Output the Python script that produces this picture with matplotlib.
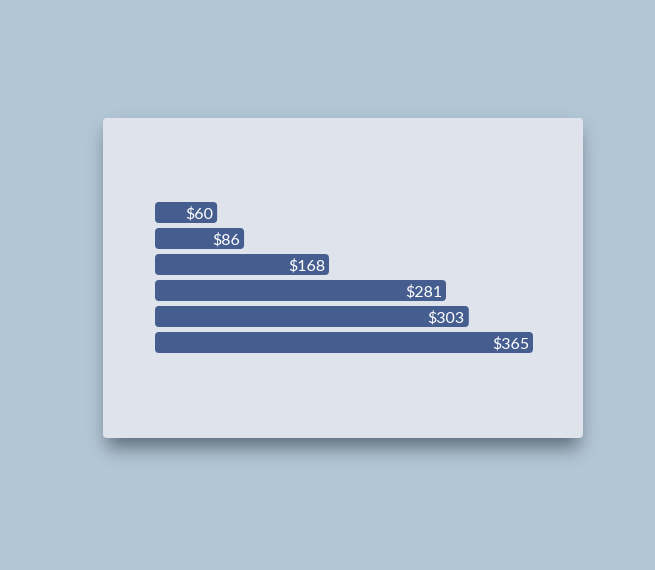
import numpy as np
import matplotlib.pyplot as plt
from matplotlib.patches import FancyBboxPatch

# data
values = [60, 86, 168, 281, 303, 365]
labels = ['$' + str(v) for v in values]

W, H = 655, 570
BG = '#b3c6d5'
CARD = '#dfe3eb'
BAR = '#465e8f'

fig = plt.figure(figsize=(W / 100, H / 100), dpi=100)
fig.patch.set_facecolor(BG)

cx0, cy0, cx1, cy1 = 103, 118, 583, 438

# soft drop shadow: blurred rectangle mask drawn as an image under the card
mask = np.zeros((H, W))
mask[cy0 + 12:cy1 + 10, cx0 + 4:cx1 - 4] = 1.0
sigma = 9
k = np.arange(-3 * sigma, 3 * sigma + 1)
kern = np.exp(-k ** 2 / (2 * sigma ** 2))
kern /= kern.sum()
mask = np.apply_along_axis(lambda r: np.convolve(r, kern, mode='same'), 1, mask)
mask = np.apply_along_axis(lambda c: np.convolve(c, kern, mode='same'), 0, mask)
shadow = np.zeros((H, W, 4))
shadow[..., :3] = np.array([0x2a, 0x36, 0x44]) / 255
shadow[..., 3] = mask * 0.6
bg_ax = fig.add_axes([0, 0, 1, 1])
bg_ax.imshow(shadow, extent=(0, W, H, 0), interpolation='bilinear')
bg_ax.set_xlim(0, W)
bg_ax.set_ylim(H, 0)
bg_ax.axis('off')
bg_ax.set_zorder(0)

# card
bg_ax.add_patch(FancyBboxPatch((cx0, cy0), cx1 - cx0, cy1 - cy0,
                               boxstyle='round,pad=0,rounding_size=4',
                               facecolor=CARD, edgecolor='none', zorder=3))

# bars axes
ax_left, ax_right = 155, 533
ax_top, ax_bottom = 199.5, 355.5
ax = fig.add_axes([ax_left / W, 1 - ax_bottom / H, (ax_right - ax_left) / W, (ax_bottom - ax_top) / H])
ax.set_zorder(5)
ax.set_facecolor('none')
ax.set_xlim(0, max(values))
ax.set_ylim(len(values) - 0.5, -0.5)
ax.axis('off')

px_x = (ax_right - ax_left) / max(values)
px_y = 26.0
bar_h = 21 / 26
r_px = 4
for i, v in enumerate(values):
    ax.add_patch(FancyBboxPatch((0, i - bar_h / 2), v, bar_h,
                                boxstyle='round,pad=0,rounding_size=%f' % (r_px / px_x),
                                mutation_aspect=px_x / px_y,
                                facecolor=BAR, edgecolor='none'))
    ax.text(v - 4 / px_x, i + 0.06, labels[i], ha='right', va='center',
            color='white', fontsize=11.5, family='Lato')

fig.savefig('out.png', dpi=100, facecolor=BG)
